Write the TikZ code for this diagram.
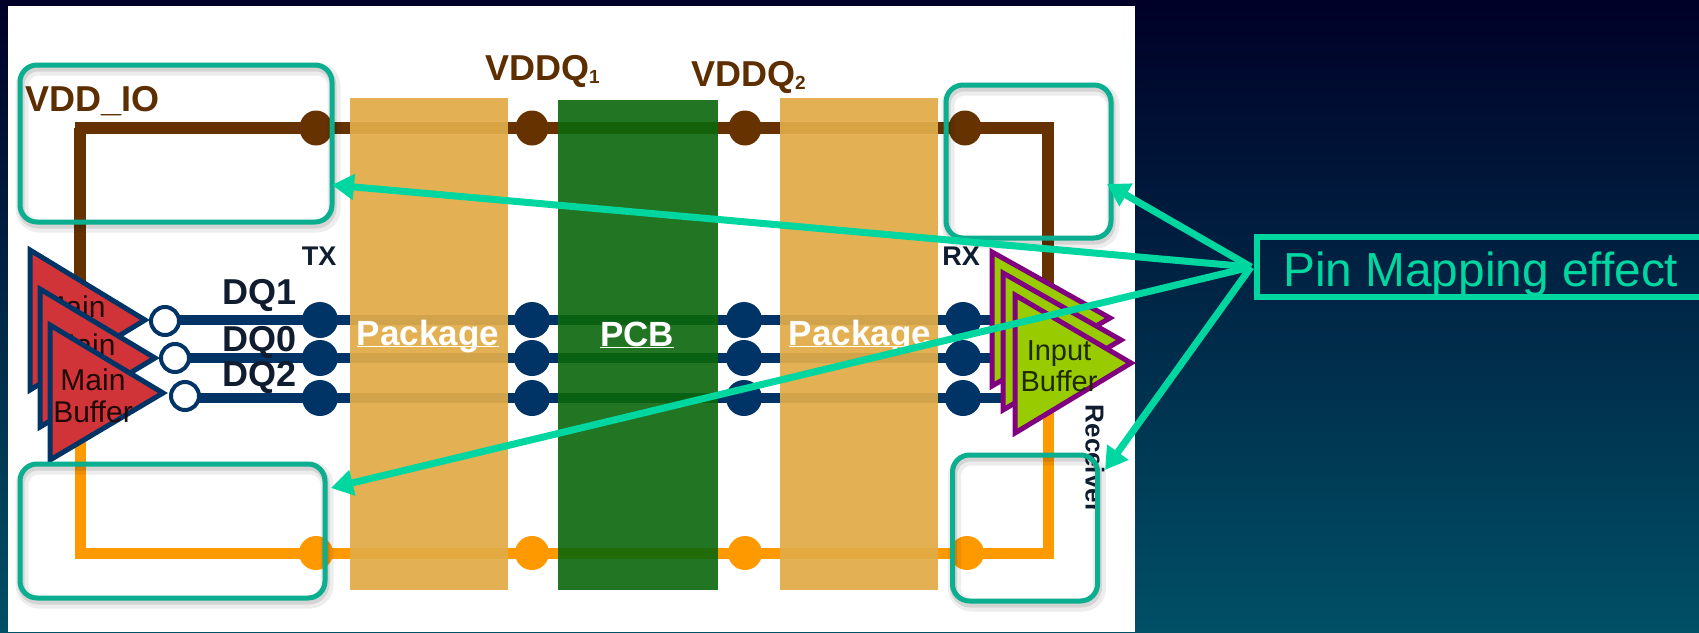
\documentclass[tikz,border=0pt]{standalone}
\usepackage{fontspec}
\setmainfont{Liberation Sans}
\usetikzlibrary{arrows.meta,shapes.geometric}
\definecolor{bgtop}{RGB}{0,0,40}
\definecolor{bgbottom}{RGB}{0,80,102}
\definecolor{brownline}{HTML}{663300}
\definecolor{orangeline}{HTML}{FF9900}
\definecolor{dqblue}{HTML}{003366}
\definecolor{pkgfill}{RGB}{225,172,72}
\definecolor{pcbfill}{RGB}{10,102,10}
\definecolor{tealbox}{HTML}{0BAE8E}
\definecolor{pinteal}{HTML}{00D6A0}
\definecolor{bufred}{HTML}{D13438}
\definecolor{bufgreen}{HTML}{99CC00}
\definecolor{bufpurple}{HTML}{800080}
\definecolor{labelbrown}{HTML}{5C2E00}
\definecolor{labeldark}{HTML}{101C30}
\newcommand{\fsz}[1]{\fontsize{#1}{#1}\selectfont}
\tikzset{
  railbrown/.style={draw=brownline,line width=12pt,line join=miter},
  railorange/.style={draw=orangeline,line width=11pt,line join=miter},
  dqline/.style={draw=dqblue,line width=10pt,shorten <=-4pt},
  browndot/.style={ellipse,fill=brownline,minimum width=33pt,minimum height=35pt,inner sep=0pt},
  orangedot/.style={circle,fill=orangeline,minimum size=34pt,inner sep=0pt},
  bluedot/.style={circle,fill=dqblue,minimum size=36pt,inner sep=0pt},
  opencirc/.style={circle,draw=dqblue,fill=white,line width=4pt,minimum size=28pt,inner sep=0pt},
  pkgband/.style={rectangle,fill=pkgfill,fill opacity=.93,inner sep=0pt},
  pcbband/.style={rectangle,fill=pcbfill,fill opacity=.9,inner sep=0pt},
  bandlabel/.style={text=white,font=\fsz{35}\bfseries,inner sep=0pt},
  powerlabel/.style={text=labelbrown,font=\fsz{36}\bfseries,inner sep=0pt},
  siglabel/.style={text=labeldark,font=\fsz{36}\bfseries,inner sep=0pt},
  portlabel/.style={text=labeldark,font=\fsz{27}\bfseries,inner sep=0pt},
  mainbuf/.style={draw=dqblue,fill=bufred,line width=5pt,line join=miter},
  inbuf/.style={draw=bufpurple,fill=bufgreen,line width=5pt,line join=miter},
  mainlabel/.style={text=black!85!bufred,font=\fsz{30},inner sep=0pt,align=center},
  inlabel/.style={text=black!80!bufgreen,font=\fsz{29},inner sep=0pt,align=center},
  pinboxshadowa/.style={rectangle,rounded corners=17pt,draw=black,draw opacity=.07,line width=13pt,inner sep=0pt},
  pinboxshadowb/.style={rectangle,rounded corners=17pt,draw=black,draw opacity=.1,line width=7pt,inner sep=0pt},
  pinbox/.style={rectangle,rounded corners=17pt,draw=tealbox,line width=5pt,inner sep=0pt},
  pinlabel/.style={rectangle,draw=pinteal,line width=6pt,inner sep=0pt,minimum height=60pt},
  pintext/.style={text=pinteal,font=\fsz{47.8},inner sep=0pt},
  pinarrow/.style={draw=pinteal,line width=7pt,-{Triangle[length=22pt,width=25pt]}}
}
\begin{document}
\begin{tikzpicture}[x=1pt,y=-1pt]
\useasboundingbox (0,0) rectangle (1699,632);
\clip (0,0) rectangle (1699,632);
\shade[top color=bgtop,bottom color=bgbottom] (0,0) rectangle (1699,632);
\fill[white] (8,6) rectangle (1135,632);

% power rails
\draw[railbrown] (75,128) -- (1048,128) -- (1048,340);
\draw[railbrown] (80,128) -- (80,340);
\draw[railorange] (80,340) -- (80,553) -- (1054,553);
\draw[railorange] (1048,340) -- (1048,553);
\foreach \n/\x in {a/316,b/532,c/745,d/965}{
  \node[browndot] (vdd\n) at (\x,128) {};
}
\foreach \n/\x in {a/316,b/532,c/745,d/967}{
  \node[orangedot] (vss\n) at (\x,553) {};
}

% open circles and DQ lines
\node[opencirc] (oc1) at (165,321) {};
\node[opencirc] (oc2) at (175,358) {};
\node[opencirc] (oc3) at (185,396) {};
\coordinate (rx1) at (994,320);
\coordinate (rx2) at (1006,358);
\coordinate (rx3) at (1018,398);
\foreach \r/\y in {1/320,2/358,3/398}{
  \node[bluedot] (da\r) at (320,\y) {};
  \node[bluedot] (db\r) at (532,\y) {};
  \node[bluedot] (dc\r) at (744,\y) {};
  \node[bluedot] (dd\r) at (963,\y) {};
  \draw[dqline] (oc\r.east |- da\r) -- (rx\r);
}

% bands
\node[pkgband,minimum width=158pt,minimum height=492pt] (pkg1) at (429,344) {};
\node[pcbband,minimum width=160pt,minimum height=490pt] (pcb) at (637.5,345) {};
\node[pkgband,minimum width=158pt,minimum height=492pt] (pkg2) at (859,344) {};
\node[bandlabel] (pkg1t) at (428,346) {\underline{\smash{Package}}};
\node[bandlabel] (pcbt) at (637,347) {\underline{\smash{PCB}}};
\node[bandlabel] (pkg2t) at (860,346) {\underline{\smash{Package}}};

% labels
\node[powerlabel,anchor=west] (lio) at (25,101) {VDD\_IO};
\node[powerlabel,anchor=west] (lq1) at (485,71) {VDDQ\raisebox{-3pt}{\fsz{19}1}};
\node[powerlabel,anchor=west] (lq2) at (691,77) {VDDQ\raisebox{-3pt}{\fsz{19}2}};
\node[portlabel] (ltx) at (319,256) {TX};
\node[portlabel] (lrx) at (961,256) {RX};
\node[siglabel,anchor=west] (ld1) at (222,295) {DQ1};
\node[siglabel,anchor=west] (ld0) at (222,342) {DQ0};
\node[siglabel,anchor=west] (ld2) at (222,377) {DQ2};
\node[text=labeldark,font=\fsz{26}\bfseries,rotate=-90,inner sep=0pt] (lrec) at (1095,459) {Receiver};

% main buffers
\draw[mainbuf] (30,250) -- (145,320) -- (30,390) -- cycle;
\node[mainlabel] (m1) at (73,307) {Main};
\draw[mainbuf] (40,289) -- (155,358) -- (40,427) -- cycle;
\node[mainlabel] (m2) at (83,345) {Main};
\draw[mainbuf] (50,325) -- (163,393) -- (50,460) -- cycle;
\node[mainlabel] (m3) at (93,396) {Main\\[2pt]Buffer};

% input buffers
\draw[inbuf] (992,252) -- (1110,318) -- (992,386) -- cycle;
\draw[inbuf] (1003,273) -- (1121,340) -- (1003,410) -- cycle;
\draw[inbuf] (1015,295) -- (1131,363) -- (1015,433) -- cycle;
\node[inlabel] (ib) at (1059,366) {Input\\[2pt]Buffer};

% highlight boxes
\foreach \n/\cx/\cy/\w/\h in {p/176/143.5/312/157,q/1028.5/161.5/165/153,r/172.5/531/305/134,s/1025/528/145/146}{
  \node[pinboxshadowa,minimum width=\w pt,minimum height=\h pt] (sha\n) at (\cx+2,\cy+4) {};
  \node[pinboxshadowb,minimum width=\w pt,minimum height=\h pt] (shb\n) at (\cx+1,\cy+3) {};
  \node[pinbox,minimum width=\w pt,minimum height=\h pt] (box\n) at (\cx,\cy) {};
}

% pin mapping
\node[pinlabel,anchor=west,minimum width=470pt] (pin) at (1254,267) {};
\node[pintext,anchor=west] (pintxt) at (1283,274) {Pin Mapping effect};
\coordinate (src) at (1251,267);
\coordinate (tipp) at (332,185);
\coordinate (tipq) at (1107,184);
\coordinate (tipr) at (331,488);
\coordinate (tips) at (1105,470);
\draw[pinarrow] (src) -- (tipp);
\draw[pinarrow] (src) -- (tipq);
\draw[pinarrow] (src) -- (tipr);
\draw[pinarrow] (src) -- (tips);
\end{tikzpicture}
\end{document}
